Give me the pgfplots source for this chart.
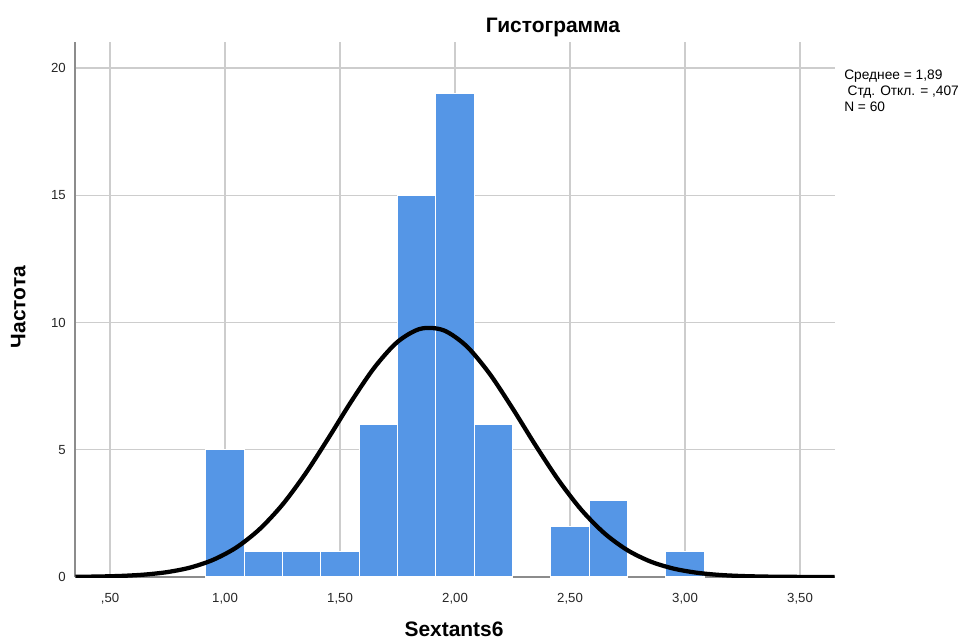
\documentclass[border=0pt]{standalone}
\usepackage{fontspec}
\setmainfont{Liberation Sans}
\usepackage{pgfplots}
\pgfplotsset{compat=1.18}
\definecolor{barblue}{RGB}{85,150,230}
\definecolor{gridgray}{RGB}{205,205,205}
\definecolor{axgray}{RGB}{140,140,140}
\begin{document}
\begin{tikzpicture}
\useasboundingbox (0,0) rectangle (722.25pt,479.25pt);
\begin{axis}[
  at={(56.25pt,46.5pt)}, anchor=south west,
  scale only axis, width=570pt, height=401.25pt,
  xmin=0.3478, xmax=3.652, ymin=0, ymax=21.02,
  axis x line*=bottom, axis y line*=left,
  axis line style={axgray, line width=1.1pt, -},
  xtick={0.5,1,1.5,2,2.5,3,3.5},
  xticklabels={{,50},{1,00},{1,50},{2,00},{2,50},{3,00},{3,50}},
  ytick={0,5,10,15,20},
  major tick length=0pt,
  grid=major,
  major grid style={gridgray, line width=1pt},
  tick label style={font=\fontsize{9.9}{11}\selectfont, text=black!85},
  xticklabel style={yshift=-9pt},
  yticklabel style={xshift=-3.4pt},
  /pgf/number format/assume math mode=true,
  clip=true,
]
\addplot[ybar, bar width=0.16667, bar shift=0pt, fill=barblue, draw=white, line width=0.8pt]
coordinates {
(1.0,5) (1.16667,1) (1.33333,1) (1.5,1) (1.66667,6) (1.83333,15) (2.0,19) (2.16667,6) (2.5,2) (2.66667,3) (3.0,1)
};
\addplot[smooth, black, line width=3.2pt, mark=none]
coordinates {
(0.35,0.0076) (0.45,0.0187) (0.55,0.0434) (0.65,0.0945) (0.75,0.194) (0.85,0.374)
(0.95,0.681) (1.05,1.164) (1.15,1.877) (1.25,2.846) (1.35,4.065) (1.45,5.463)
(1.55,6.913) (1.65,8.236) (1.75,9.238) (1.85,9.753) (1.95,9.694)
(2.05,9.071) (2.15,7.991) (2.25,6.627) (2.35,5.174) (2.45,3.804) (2.55,2.631)
(2.65,1.713) (2.75,1.051) (2.85,0.607) (2.95,0.330) (3.05,0.169) (3.15,0.081)
(3.25,0.037) (3.35,0.016) (3.45,0.0065) (3.55,0.0025) (3.65,0.0009)
};
\end{axis}
\node[anchor=base, font=\bfseries\fontsize{15.7}{18}\selectfont] at (414.75pt,455pt) {Гистограмма};
\node[anchor=base, font=\bfseries\fontsize{15.7}{18}\selectfont] at (340.5pt,2.25pt) {Sextants6};
\node[anchor=base, rotate=90, font=\bfseries\fontsize{15.7}{18}\selectfont] at (19pt,249pt) {Частота};
\node[anchor=base west, inner sep=0pt, font=\fontsize{10.3}{12}\selectfont] at (633pt,419.25pt) {Среднее = 1,89};
\node[anchor=base west, inner sep=0pt, font=\fontsize{10.3}{12}\selectfont] at (635.5pt,407.25pt) {Стд. Откл. = ,407};
\node[anchor=base west, inner sep=0pt, font=\fontsize{10.3}{12}\selectfont] at (633pt,395.25pt) {N = 60};
\end{tikzpicture}
\end{document}
